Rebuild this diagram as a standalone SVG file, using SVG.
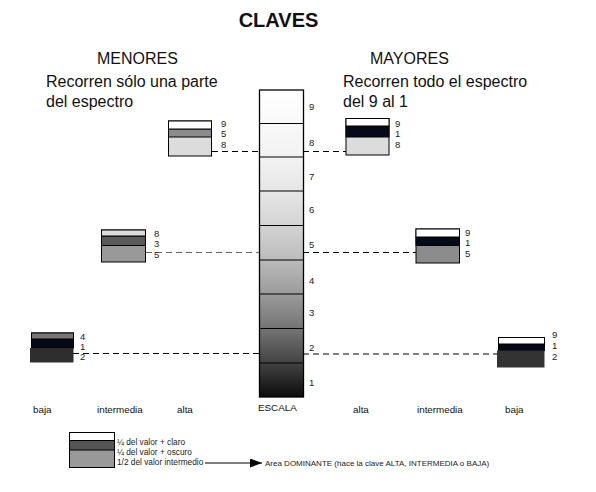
<svg xmlns="http://www.w3.org/2000/svg" width="596" height="492" viewBox="0 0 596 492">
<style>
text{font-family:"Liberation Sans",Arial,sans-serif;fill:#111}
.t{font-size:20px;font-weight:bold}
.h{font-size:16px}
.n{font-size:9.5px;fill:#222}
.l{font-size:9.8px}
.s{font-size:8.3px;fill:#222}
.box{stroke:#000;stroke-width:1}
.dash{stroke:#000;stroke-width:1;stroke-dasharray:6 4;fill:none}
.dashg{stroke:#666;stroke-width:1;stroke-dasharray:6 4;fill:none}
</style>
<defs>
<linearGradient id="g" x1="0" y1="0" x2="0" y2="1">
<stop offset="0" stop-color="#ffffff"/>
<stop offset="0.22" stop-color="#f2f2f2"/>
<stop offset="0.33" stop-color="#e6e6e6"/>
<stop offset="0.44" stop-color="#d4d4d4"/>
<stop offset="0.55" stop-color="#bcbcbc"/>
<stop offset="0.66" stop-color="#9c9c9c"/>
<stop offset="0.77" stop-color="#777777"/>
<stop offset="0.88" stop-color="#474747"/>
<stop offset="1" stop-color="#0c0c0c"/>
</linearGradient>
<marker id="ar" viewBox="0 0 12 9" refX="12" refY="4.5" markerWidth="12" markerHeight="9" markerUnits="userSpaceOnUse" orient="auto">
<path d="M0,0 L12,4.5 L0,9 z" fill="#000"/>
</marker>
</defs>
<rect width="596" height="492" fill="#fff"/>
<text class="t" x="278.5" y="27" text-anchor="middle">CLAVES</text>
<text class="h" x="97" y="64">MENORES</text>
<text class="h" x="370" y="64">MAYORES</text>
<text class="h" x="46" y="87">Recorren sólo una parte</text>
<text class="h" x="46" y="107">del espectro</text>
<text class="h" x="343" y="87">Recorren todo el espectro</text>
<text class="h" x="343" y="107">del 9 al 1</text>

<g id="connectors">
<line class="dash" x1="212" y1="151.5" x2="259" y2="151.5"/>
<line class="dash" x1="303" y1="151.5" x2="346" y2="151.5"/>
<line class="dashg" x1="146" y1="252.5" x2="259" y2="252.5"/>
<line class="dash" x1="303" y1="252.5" x2="416" y2="252.5"/>
<line class="dash" x1="73" y1="353.5" x2="259" y2="353.5"/>
<line class="dash" x1="303" y1="354" x2="497" y2="354"/>
<line stroke="#000" stroke-width="1" x1="205" y1="463" x2="262" y2="463" marker-end="url(#ar)"/>
</g>

<g id="escala">
<rect x="259.5" y="90" width="44" height="307" fill="url(#g)" stroke="#000" stroke-width="1.3"/>
<g stroke="#000" stroke-width="1.2">
<line x1="259.5" y1="123.5" x2="303.5" y2="123.5"/>
<line x1="259.5" y1="157" x2="303.5" y2="157"/>
<line x1="259.5" y1="191" x2="303.5" y2="191"/>
<line x1="259.5" y1="225.5" x2="303.5" y2="225.5"/>
<line x1="259.5" y1="260" x2="303.5" y2="260"/>
<line x1="259.5" y1="294" x2="303.5" y2="294"/>
<line x1="259.5" y1="328.5" x2="303.5" y2="328.5"/>
<line x1="259.5" y1="363" x2="303.5" y2="363"/>
</g>
<text class="n" x="309" y="110">9</text>
<text class="n" x="309" y="146">8</text>
<text class="n" x="309" y="180">7</text>
<text class="n" x="309" y="213">6</text>
<text class="n" x="309" y="248">5</text>
<text class="n" x="309" y="284">4</text>
<text class="n" x="309" y="316">3</text>
<text class="n" x="309" y="351">2</text>
<text class="n" x="309" y="386">1</text>
<text class="l" x="258" y="411">ESCALA</text>
</g>

<g id="menor-alta">
<rect x="168.5" y="121" width="43" height="35" fill="#dcdcdc" class="box"/>
<rect x="168.5" y="129" width="43" height="8" fill="#8c8c8c" class="box"/>
<rect x="168.5" y="121" width="43" height="8" fill="#fff" class="box"/>
<text class="n" x="221" y="127">9</text>
<text class="n" x="221" y="137">5</text>
<text class="n" x="221" y="148">8</text>
<text class="l" x="177" y="413">alta</text>
</g>

<g id="menor-intermedia">
<rect x="101.5" y="230" width="44" height="32" fill="#999" class="box"/>
<rect x="101.5" y="236" width="44" height="9.5" fill="#5a5a5a" class="box"/>
<rect x="101.5" y="230" width="44" height="6" fill="#dcdcdc" class="box"/>
<text class="n" x="154" y="237">8</text>
<text class="n" x="154" y="247">3</text>
<text class="n" x="154" y="258">5</text>
<text class="l" x="97" y="413">intermedia</text>
</g>

<g id="menor-baja">
<rect x="31.5" y="333" width="42" height="15" fill="#050a18" class="box"/>
<rect x="31.5" y="333" width="42" height="6" fill="#777" class="box"/>
<rect x="30" y="348" width="43.5" height="14.5" fill="#2e2e2e"/>
<text class="n" x="80" y="340">4</text>
<text class="n" x="80" y="350">1</text>
<text class="n" x="80" y="360">2</text>
<text class="l" x="33" y="413">baja</text>
</g>

<g id="mayor-alta">
<rect x="346" y="118.5" width="43" height="36.5" fill="#dcdcdc" class="box"/>
<rect x="346" y="126" width="43" height="11" fill="#050a18" class="box"/>
<rect x="346" y="118.5" width="43" height="7.5" fill="#fff" class="box"/>
<text class="n" x="395" y="127">9</text>
<text class="n" x="395" y="137">1</text>
<text class="n" x="395" y="148">8</text>
<text class="l" x="353" y="413">alta</text>
</g>

<g id="mayor-intermedia">
<rect x="416" y="229" width="43.5" height="34" fill="#8c8c8c" class="box"/>
<rect x="416" y="237" width="43.5" height="8.5" fill="#050a18" class="box"/>
<rect x="416" y="229" width="43.5" height="8" fill="#fff" class="box"/>
<text class="n" x="465" y="236">9</text>
<text class="n" x="465" y="246">1</text>
<text class="n" x="465" y="257">5</text>
<text class="l" x="417" y="413">intermedia</text>
</g>

<g id="mayor-baja">
<rect x="498.5" y="337.5" width="46" height="13" fill="#050a18" class="box"/>
<rect x="498.5" y="337.5" width="46" height="6.5" fill="#fff" class="box"/>
<rect x="497" y="350.5" width="47.5" height="17" fill="#333"/>
<text class="n" x="552" y="338">9</text>
<text class="n" x="552" y="349">1</text>
<text class="n" x="552" y="360">2</text>
<text class="l" x="505" y="413">baja</text>
</g>

<g id="leyenda">
<rect x="69.5" y="432.5" width="45" height="35" fill="#999" class="box"/>
<rect x="69.5" y="440.5" width="45" height="9.5" fill="#555" class="box"/>
<rect x="69.5" y="432.5" width="45" height="8" fill="#fff" class="box"/>
<text class="s" x="117" y="445">¼ del valor + claro</text>
<text class="s" x="117" y="455">¼ del valor + oscuro</text>
<text class="s" x="117" y="465">1/2 del valor intermedio</text>
<text class="s" x="265" y="466" style="font-size:8px">Area DOMINANTE (hace la clave ALTA, INTERMEDIA o BAJA)</text>
</g>
</svg>
